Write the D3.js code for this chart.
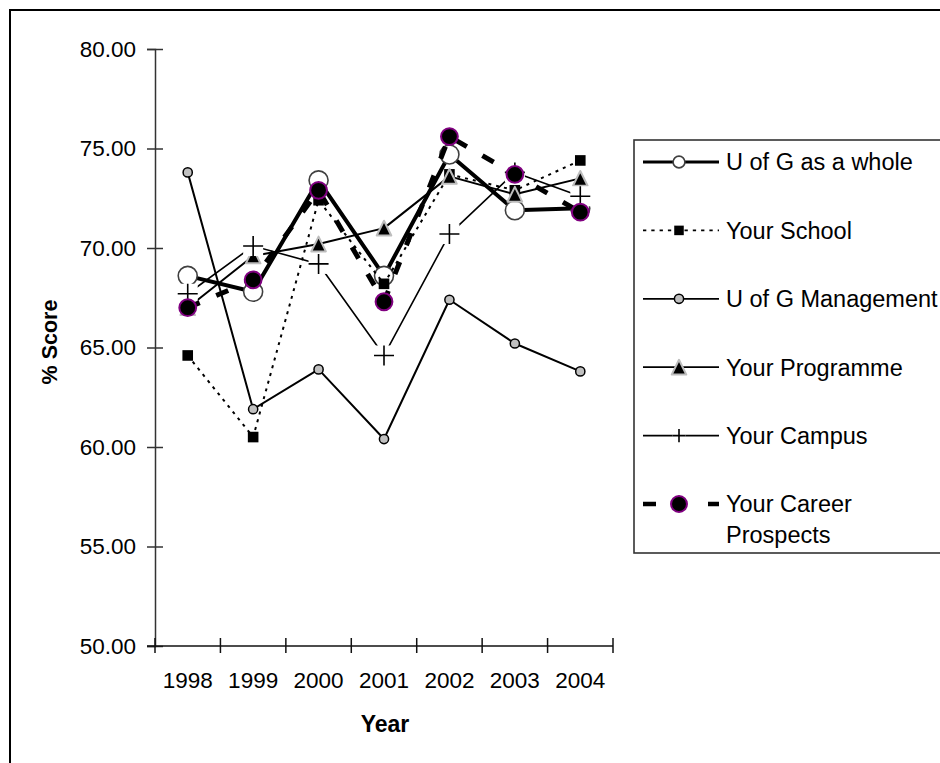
<!DOCTYPE html>
<html>
<head>
<meta charset="utf-8">
<script src="https://cdn.jsdelivr.net/npm/d3@7"></script>
<style>
  html, body { margin: 0; padding: 0; background: #fff; }
  svg { display: block; font-family: "Liberation Sans", Arial, sans-serif; }
</style>
</head>
<body>
<svg id="chart" width="940" height="763"></svg>
<script>
// Survey scores by year
const years = ["1998", "1999", "2000", "2001", "2002", "2003", "2004"];
const wholeScores      = [68.6, 67.8, 73.4, 68.6, 74.7, 71.9, 72.0];
const schoolScores     = [64.6, 60.5, 72.4, 68.2, 73.7, 72.9, 74.4];
const managementScores = [73.8, 61.9, 63.9, 60.4, 67.4, 65.2, 63.8];
const programmeScores  = [67.0, 69.6, 70.2, 71.0, 73.6, 72.7, 73.5];
const campusScores     = [67.7, 70.1, 69.2, 64.6, 70.7, 73.8, 72.6];
const careerScores     = [67.0, 68.4, 72.9, 67.3, 75.6, 73.7, 71.8];
const seriesNames = ["U of G as a whole", "Your School", "U of G Management",
                     "Your Programme", "Your Campus", "Your Career Prospects"];
const yTicks = [50, 55, 60, 65, 70, 75, 80];
const xTitle = "Year";
const yTitle = "% Score";

const svg = d3.select("#chart");

// outer chart frame
svg.append("rect").attr("x", 10).attr("y", 10).attr("width", 1000).attr("height", 1000)
  .attr("fill", "#fff").attr("stroke", "#000").attr("stroke-width", 2);

const x = d3.scaleBand().domain(years).range([155, 613]).padding(0);
const y = d3.scaleLinear().domain([50, 80]).range([646, 49]);
const cx = d => x(d) + x.bandwidth() / 2;

// marker painters: draw a symbol centered at the group's origin
function markerOpenCircle(g, s) {
  g.append("circle").attr("r", 9.5 * s).attr("fill", "#fff").attr("stroke", "#404040").attr("stroke-width", 1.6);
}
function markerSquare(g, s) {
  const h = 5.3 * s;
  g.append("rect").attr("x", -h).attr("y", -h).attr("width", 2 * h).attr("height", 2 * h).attr("fill", "#000");
}
function markerGrayCircle(g, s) {
  g.append("circle").attr("r", 4.6 * s).attr("fill", "#c0c0c0").attr("stroke", "#000").attr("stroke-width", 1.5);
}
function markerTriangle(g, s) {
  const w = 7.3 * s, h = 7.4 * s;
  g.append("path").attr("d", `M0,${-h}L${w},${h}L${-w},${h}Z`)
    .attr("fill", "#000").attr("stroke", "#bdbdbd").attr("stroke-width", 2).attr("stroke-linejoin", "round");
}
function markerPlus(g, s) {
  const a = 10 * s;
  g.append("rect").attr("x", -a).attr("y", -a).attr("width", 2 * a).attr("height", 2 * a).attr("fill", "#fff");
  g.append("path").attr("d", `M${-a},0H${a}M0,${-a}V${a}`).attr("stroke", "#000").attr("stroke-width", 1.6);
}
function markerCareer(g, s) {
  g.append("circle").attr("r", 8.4 * s).attr("fill", "#000").attr("stroke", "#800080").attr("stroke-width", 2);
}

const seriesValues = [wholeScores, schoolScores, managementScores, programmeScores, campusScores, careerScores];
const seriesStyle = [
  { width: 4,   dash: null,    marker: markerOpenCircle, legendScale: 0.62, legendWidth: 3 },
  { width: 2,   dash: "3,5",   marker: markerSquare,     legendScale: 0.9,  legendWidth: 1.6 },
  { width: 2,   dash: null,    marker: markerGrayCircle, legendScale: 1.0,  legendWidth: 1.8 },
  { width: 2,   dash: null,    marker: markerTriangle,   legendScale: 1.0,  legendWidth: 1.8 },
  { width: 1.6, dash: null,    marker: markerPlus,       legendScale: 0.66, legendWidth: 1.6 },
  { width: 5,   dash: "13,18", marker: markerCareer,     legendScale: 0.95, legendWidth: 4.5 }
];
const series = seriesNames.map((name, i) => ({
  name, values: seriesValues[i].map((v, j) => ({ year: years[j], v })), style: seriesStyle[i]
}));

// axes
const yAxis = d3.axisLeft(y).tickValues(yTicks).tickFormat(d3.format(".2f")).tickSize(8).tickPadding(12);
const gy = svg.append("g").attr("transform", "translate(155,0)").call(yAxis);
gy.select(".domain").attr("stroke", "#333").attr("stroke-width", 1.5);
gy.selectAll(".tick line").attr("x1", 8).attr("stroke", "#333").attr("stroke-width", 1.5);
gy.selectAll(".tick text").attr("font-size", 22.5).attr("fill", "#000").attr("x", -19)
  .attr("font-family", "Liberation Sans, Arial, sans-serif");

const xAxis = d3.axisBottom(x).tickSize(0).tickPadding(26);
const gx = svg.append("g").attr("transform", "translate(0,646)").call(xAxis);
gx.select(".domain").attr("stroke", "#111").attr("stroke-width", 1.5).attr("d", "M147,0H613");
gx.selectAll(".tick text").attr("font-size", 22.5).attr("fill", "#000")
  .attr("font-family", "Liberation Sans, Arial, sans-serif");
// category boundary ticks crossing the axis
const bounds = years.map(d => x(d)).concat([x.range()[1]]);
gx.selectAll("line.bound").data(bounds).join("line").attr("class", "bound")
  .attr("x1", d => d).attr("x2", d => d).attr("y1", -8).attr("y2", 7)
  .attr("stroke", "#111").attr("stroke-width", 1.5);

// axis titles
svg.append("text").attr("x", 385).attr("y", 732).attr("text-anchor", "middle")
  .attr("font-size", 23).attr("font-weight", "bold").text(xTitle);
svg.append("text").attr("transform", "translate(57,342) rotate(-90)").attr("text-anchor", "middle")
  .attr("font-size", 21.5).attr("font-weight", "bold").text(yTitle);

// series: line then markers, drawn in order
const line = d3.line().x(d => cx(d.year)).y(d => y(d.v));
series.forEach(s => {
  const g = svg.append("g");
  g.append("path").datum(s.values).attr("d", line).attr("fill", "none")
    .attr("stroke", "#000").attr("stroke-width", s.style.width)
    .attr("stroke-dasharray", s.style.dash).attr("stroke-linejoin", "round");
  s.values.forEach(d => {
    const m = g.append("g").attr("transform", `translate(${cx(d.year)},${y(d.v)})`);
    s.style.marker(m, 1);
  });
});

// legend
const legend = svg.append("g");
legend.append("rect").attr("x", 634).attr("y", 140).attr("width", 400).attr("height", 413)
  .attr("fill", "#fff").attr("stroke", "#333").attr("stroke-width", 1.6);
const legendY = d3.scalePoint().domain(seriesNames).range([162, 504]);
series.forEach((s, i) => {
  const ly = legendY(s.name);
  const g = legend.append("g");
  if (s.style.dash && i === 5) {
    g.append("path").attr("d", `M643,${ly}H656M708,${ly}H719`)
      .attr("stroke", "#000").attr("stroke-width", s.style.legendWidth);
  } else {
    g.append("path").attr("d", `M643,${ly}H719`).attr("stroke", "#000")
      .attr("stroke-width", s.style.legendWidth).attr("stroke-dasharray", s.style.dash ? "3.3,5" : null);
  }
  const m = g.append("g").attr("transform", `translate(679,${ly})`);
  s.style.marker(m, s.style.legendScale);
  const t = g.append("text").attr("x", 726).attr("y", ly).attr("dy", "0.36em").attr("font-size", 23.5);
  if (i === 5) {
    t.append("tspan").attr("x", 726).text("Your Career");
    t.append("tspan").attr("x", 726).attr("dy", "1.28em").text("Prospects");
  } else {
    t.text(s.name);
  }
});
</script>
</body>
</html>
